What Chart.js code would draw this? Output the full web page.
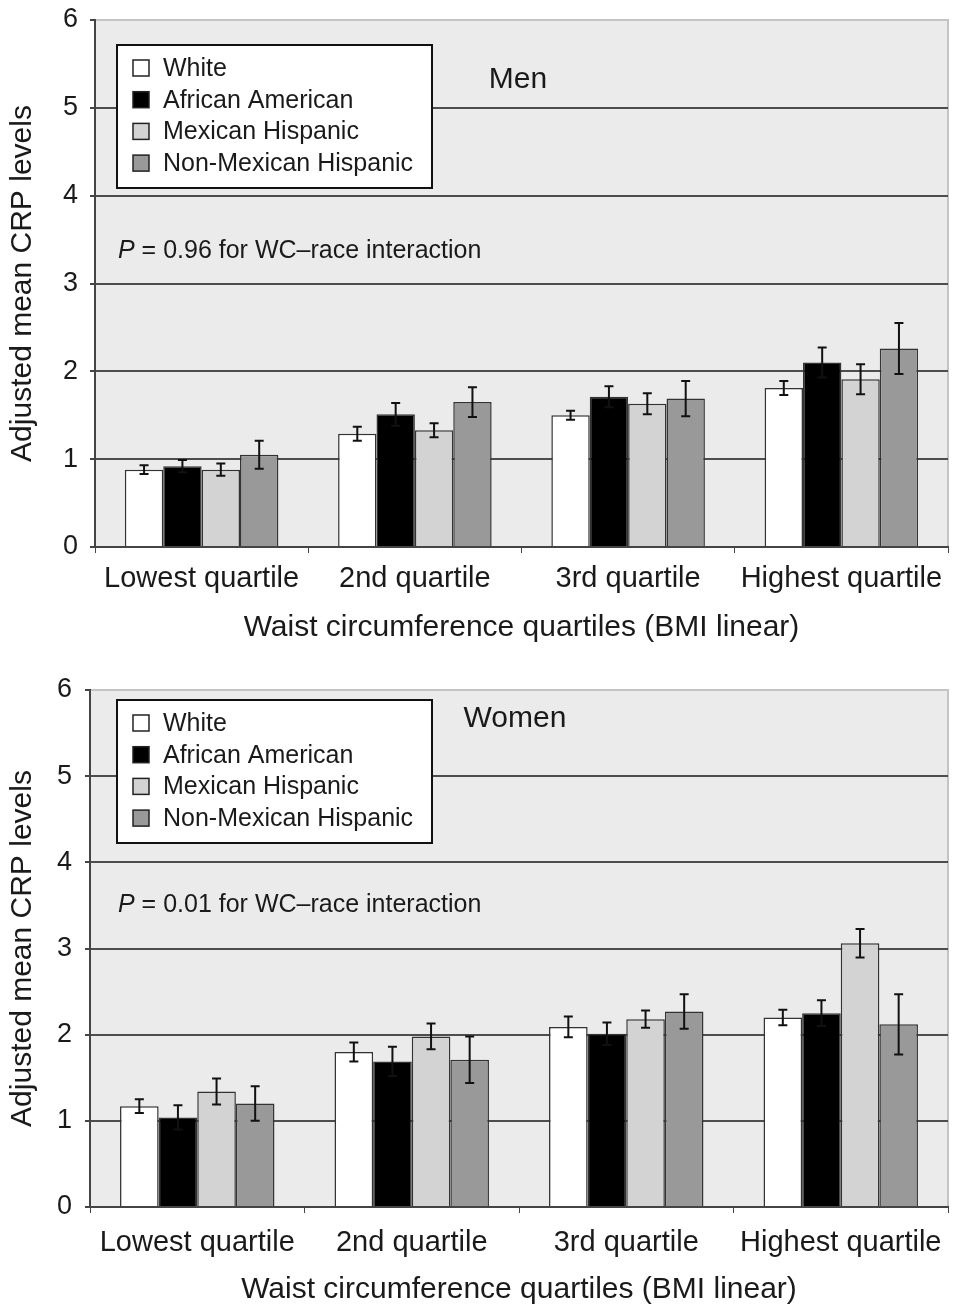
<!DOCTYPE html>
<html><head><meta charset="utf-8">
<script src="https://cdn.jsdelivr.net/npm/chart.js@4.4.0/dist/chart.umd.min.js"></script>
<style>
html,body{margin:0;padding:0;background:#fff;}
#wrap{position:relative;width:955px;height:1310px;overflow:hidden;}
.c{position:absolute;left:0;width:955px;height:655px;}
canvas{display:block;}
</style></head><body>
<div id="wrap">
<div class="c" style="top:0"><canvas id="men" width="955" height="655"></canvas></div>
<div class="c" style="top:655px"><canvas id="women" width="955" height="655"></canvas></div>
</div>
<script>
// ---------- data ----------
const categories = ['Lowest quartile', '2nd quartile', '3rd quartile', 'Highest quartile'];
const groups = ['White', 'African American', 'Mexican Hispanic', 'Non-Mexican Hispanic'];
const yTicks = [0, 1, 2, 3, 4, 5, 6];

const menWhite = [0.88, 1.29, 1.50, 1.81];
const menAfricanAmerican = [0.92, 1.51, 1.71, 2.10];
const menMexicanHispanic = [0.88, 1.33, 1.63, 1.91];
const menNonMexicanHispanic = [1.05, 1.65, 1.69, 2.26];
const menWhiteErr = [0.05, 0.08, 0.05, 0.08];
const menAfricanAmericanErr = [0.07, 0.13, 0.12, 0.17];
const menMexicanHispanicErr = [0.07, 0.08, 0.12, 0.17];
const menNonMexicanHispanicErr = [0.16, 0.17, 0.20, 0.29];

const womenWhite = [1.17, 1.80, 2.09, 2.20];
const womenAfricanAmerican = [1.04, 1.69, 2.01, 2.25];
const womenMexicanHispanic = [1.34, 1.98, 2.18, 3.06];
const womenNonMexicanHispanic = [1.20, 1.71, 2.27, 2.12];
const womenWhiteErr = [0.08, 0.11, 0.12, 0.09];
const womenAfricanAmericanErr = [0.14, 0.17, 0.13, 0.15];
const womenMexicanHispanicErr = [0.15, 0.15, 0.10, 0.165];
const womenNonMexicanHispanicErr = [0.20, 0.27, 0.20, 0.35];

const yTitle = 'Adjusted mean CRP levels';
const xTitle = 'Waist circumference quartiles (BMI linear)';
const menPText = ' = 0.96 for WC\u2013race interaction';
const womenPText = ' = 0.01 for WC\u2013race interaction';

// ---------- styles ----------
const FONT = "'Liberation Sans', Arial, Helvetica, sans-serif";
const TEXT = '#1a1a1a';
const fills = ['#ffffff', '#000000', '#d3d3d3', '#999999'];

const bgPlugin = {
  id: 'bg',
  beforeDraw(chart) {
    const {ctx, chartArea: a} = chart;
    ctx.save();
    ctx.fillStyle = '#ebebeb';
    ctx.fillRect(a.left, a.top, a.right - a.left, a.bottom - a.top);
    ctx.strokeStyle = '#c4c4c4';
    ctx.lineWidth = 2;
    ctx.beginPath();
    ctx.moveTo(a.left, a.top);
    ctx.lineTo(a.right, a.top);
    ctx.lineTo(a.right, a.bottom);
    ctx.stroke();
    ctx.restore();
  }
};

const errPlugin = {
  id: 'err',
  afterDatasetsDraw(chart) {
    const ctx = chart.ctx, y = chart.scales.y;
    chart.data.datasets.forEach((ds, di) => {
      const meta = chart.getDatasetMeta(di);
      meta.data.forEach((bar, i) => {
        const v = ds.data[i], e = ds.errors[i];
        const yt = y.getPixelForValue(v + e), yb = y.getPixelForValue(v - e);
        ctx.save();
        ctx.strokeStyle = '#111';
        ctx.lineWidth = 2;
        ctx.beginPath();
        ctx.moveTo(bar.x, yt); ctx.lineTo(bar.x, yb);
        ctx.moveTo(bar.x - 4.5, yt); ctx.lineTo(bar.x + 4.5, yt);
        ctx.moveTo(bar.x - 4.5, yb); ctx.lineTo(bar.x + 4.5, yb);
        ctx.stroke();
        ctx.restore();
      });
    });
  }
};

const boxLegendPlugin = {
  id: 'boxLegend',
  afterDraw(chart, args, o) {
    const ctx = chart.ctx;
    ctx.save();
    ctx.fillStyle = '#ffffff';
    ctx.fillRect(o.left, o.top, o.width, o.height);
    ctx.strokeStyle = '#111';
    ctx.lineWidth = 2;
    ctx.strokeRect(o.left, o.top, o.width, o.height);
    ctx.font = '25px ' + FONT;
    ctx.textBaseline = 'middle';
    chart.data.datasets.forEach((ds, i) => {
      const cy = o.top + 23 + i * 31.7;
      ctx.fillStyle = ds.backgroundColor;
      ctx.fillRect(o.left + 16, cy - 8, 16, 16);
      ctx.strokeStyle = '#222';
      ctx.lineWidth = 1.5;
      ctx.strokeRect(o.left + 16, cy - 8, 16, 16);
      ctx.fillStyle = TEXT;
      ctx.fillText(ds.label, o.left + 46, cy + 1);
    });
    ctx.restore();
  }
};

const notesPlugin = {
  id: 'notes',
  afterDraw(chart, args, o) {
    const ctx = chart.ctx;
    ctx.save();
    ctx.fillStyle = TEXT;
    ctx.textBaseline = 'middle';
    ctx.textAlign = 'center';
    ctx.font = '30px ' + FONT;
    ctx.fillText(o.title, o.titleX, o.titleY);
    ctx.textAlign = 'left';
    ctx.font = 'italic 25px ' + FONT;
    ctx.fillText('P', o.pX, o.pY);
    const w = ctx.measureText('P').width;
    ctx.font = '25px ' + FONT;
    ctx.fillText(o.pText, o.pX + w, o.pY);
    ctx.restore();
  }
};

function makeChart(id, series, errs, cfg) {
  const datasets = groups.map((g, i) => ({
    label: g,
    data: series[i],
    errors: errs[i],
    backgroundColor: fills[i],
    borderColor: '#333',
    borderWidth: 1.5,
    borderSkipped: 'bottom',
    barPercentage: 1.0,
    categoryPercentage: 0.72
  }));
  return new Chart(document.getElementById(id), {
    type: 'bar',
    data: {labels: categories, datasets},
    plugins: [bgPlugin, errPlugin, boxLegendPlugin, notesPlugin],
    options: {
      responsive: false,
      animation: false,
      layout: {padding: {top: cfg.top, right: 955 - cfg.right, left: 0, bottom: 0}},
      plugins: {
        legend: {display: false},
        tooltip: {enabled: false},
        boxLegend: cfg.legend,
        notes: cfg.notes
      },
      scales: {
        x: {
          afterFit: s => { s.height = cfg.xHeight; s.paddingLeft = 0; s.paddingRight = 0; },
          grid: {display: true, drawOnChartArea: false, drawTicks: true, tickLength: 6, color: '#444', offset: true},
          border: {display: true, color: '#444', width: 2},
          ticks: {color: TEXT, font: {family: FONT, size: 29}, padding: cfg.xTickPad, maxRotation: 0, autoSkip: false},
          title: {display: true, text: xTitle, color: TEXT, font: {family: FONT, size: 30}, padding: {top: 0, bottom: cfg.xTitlePad}}
        },
        y: {
          min: 0, max: 6,
          afterBuildTicks: s => { s.ticks = yTicks.map(v => ({value: v})); },
          afterFit: s => { s.width = cfg.left; s.paddingTop = 0; s.paddingBottom = 0; },
          grid: {
            color: c => (c.tick && c.tick.value === 6) ? '#c4c4c4' : '#4d4d4d',
            lineWidth: 2, tickLength: 5, tickColor: '#444'
          },
          border: {display: true, color: '#444', width: 2},
          ticks: {color: TEXT, font: {family: FONT, size: 27}, padding: cfg.yTickPad},
          title: {display: true, text: yTitle, color: TEXT, font: {family: FONT, size: 30}, padding: {top: cfg.yTitlePad, bottom: 0}}
        }
      }
    }
  });
}

makeChart('men',
  [menWhite, menAfricanAmerican, menMexicanHispanic, menNonMexicanHispanic],
  [menWhiteErr, menAfricanAmericanErr, menMexicanHispanicErr, menNonMexicanHispanicErr],
  {top: 20, left: 95, right: 948, xHeight: 108, xTickPad: 9, xTitlePad: 9, yTickPad: 12, yTitlePad: 5,
   legend: {left: 117, top: 45, width: 315, height: 143},
   notes: {title: 'Men', titleX: 518, titleY: 80, pText: menPText, pX: 118, pY: 251}});

makeChart('women',
  [womenWhite, womenAfricanAmerican, womenMexicanHispanic, womenNonMexicanHispanic],
  [womenWhiteErr, womenAfricanAmericanErr, womenMexicanHispanicErr, womenNonMexicanHispanicErr],
  {top: 35, left: 90, right: 948, xHeight: 103, xTickPad: 13, xTitlePad: 2, yTickPad: 13, yTitlePad: 5,
   legend: {left: 117, top: 45, width: 315, height: 143},
   notes: {title: 'Women', titleX: 515, titleY: 64, pText: womenPText, pX: 118, pY: 250}});
</script>
</body></html>
